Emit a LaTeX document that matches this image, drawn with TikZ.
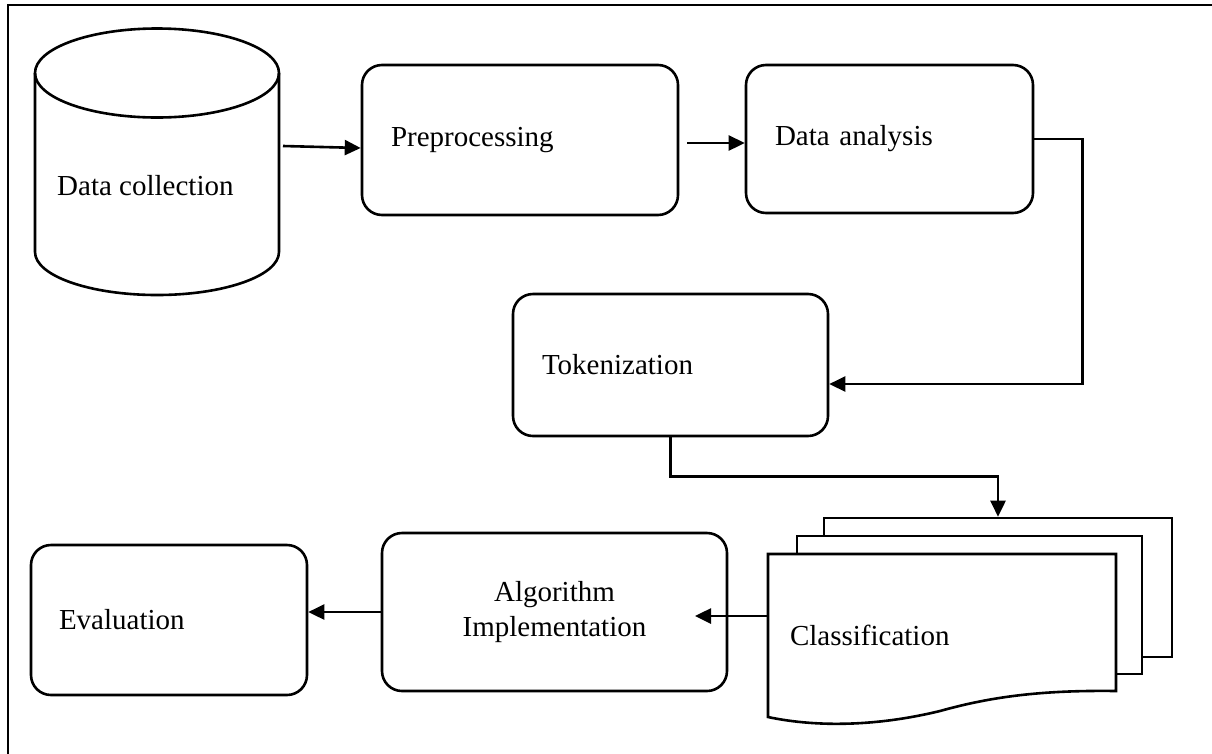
\documentclass[tikz,border=0pt]{standalone}
\usepackage{fontspec}
\setmainfont{Liberation Serif}
\usetikzlibrary{arrows.meta,calc}
\begin{document}
\begin{tikzpicture}[x=1pt,y=-1pt,
  rbox/.style={draw, rounded corners=20pt, line width=2.6pt, inner xsep=29pt, inner ysep=0pt, align=left, font=\fontsize{29}{35}\selectfont},
  page/.style={draw, fill=white, line width=2.6pt, inner sep=0pt},
  lbl/.style={inner sep=0pt, font=\fontsize{29}{35}\selectfont},
  arr/.style={line width=2.6pt, -{Triangle[length=16pt,width=15pt]}},
  shapeline/.style={line width=2.6pt},
  frameline/.style={line width=2.8pt}]
\useasboundingbox (0,0) rectangle (1212,753);
% frame
\draw[frameline] (8,760) -- (8,5) -- (1220,5);
% data collection cylinder
\node[minimum width=244pt, minimum height=267pt, inner sep=0pt] (dc) at (157,161.5) {};
\draw[shapeline] (35,73) -- (35,252) arc[start angle=180, end angle=360, x radius=122pt, y radius=43pt] -- (279,73);
\draw[shapeline] (157,73) ellipse[x radius=122pt, y radius=44.5pt];
\node[lbl, anchor=west] (dclbl) at (57,186) {Data collection};
% boxes
\node[rbox, minimum width=316pt, minimum height=150pt, text width=258pt] (pre) at (520,140) {Preprocessing};
\node[rbox, minimum width=287pt, minimum height=148pt, text width=229pt] (da) at (889.5,139) {Data analysis};
\node[rbox, minimum width=315pt, minimum height=142pt, text width=257pt] (tok) at (670.5,365) {Tokenization};
\node[rbox, minimum width=276pt, minimum height=150pt, text width=220pt, inner xsep=28pt] (eval) at (169,620) {Evaluation};
\node[rbox, minimum width=345pt, minimum height=158pt, text width=287pt, align=center] (algo) at (554.5,612) {Algorithm\\Implementation};
% classification multi-document
\node[page, minimum width=348pt, minimum height=139pt] (cls3) at (998,587.5) {};
\node[page, minimum width=345pt, minimum height=138pt] (cls2) at (969.5,605) {};
\draw[shapeline, fill=white] (768,554) -- (1116,554) -- (1116,691) .. controls (1040,690) and (990,697) .. (940,711) .. controls (870,728) and (810,726) .. (768,717) -- cycle;
\node[lbl, minimum width=348pt, minimum height=163pt, inner xsep=22pt, text width=304pt, align=left] (cls) at (942,635.5) {Classification};
% connectors
\coordinate (dcout) at (283,146);
\draw[arr] (dcout) -- ([yshift=-8pt]pre.west);
\draw[arr] ([xshift=8pt,yshift=-3pt]pre.east) -- ([yshift=-4pt]da.west);
\draw[arr] (da.east) -- ++(48,0) |- ([yshift=-19pt]tok.east);
\draw[arr] (tok.south) |- ([yshift=40pt]cls3.north) -- (cls3.north);
\coordinate (aitip) at (695,616);
\draw[arr] ([yshift=19.5pt]cls.west) -- (aitip);
\draw[arr] (algo.west) -- (algo.west -| eval.east);
\end{tikzpicture}
\end{document}
